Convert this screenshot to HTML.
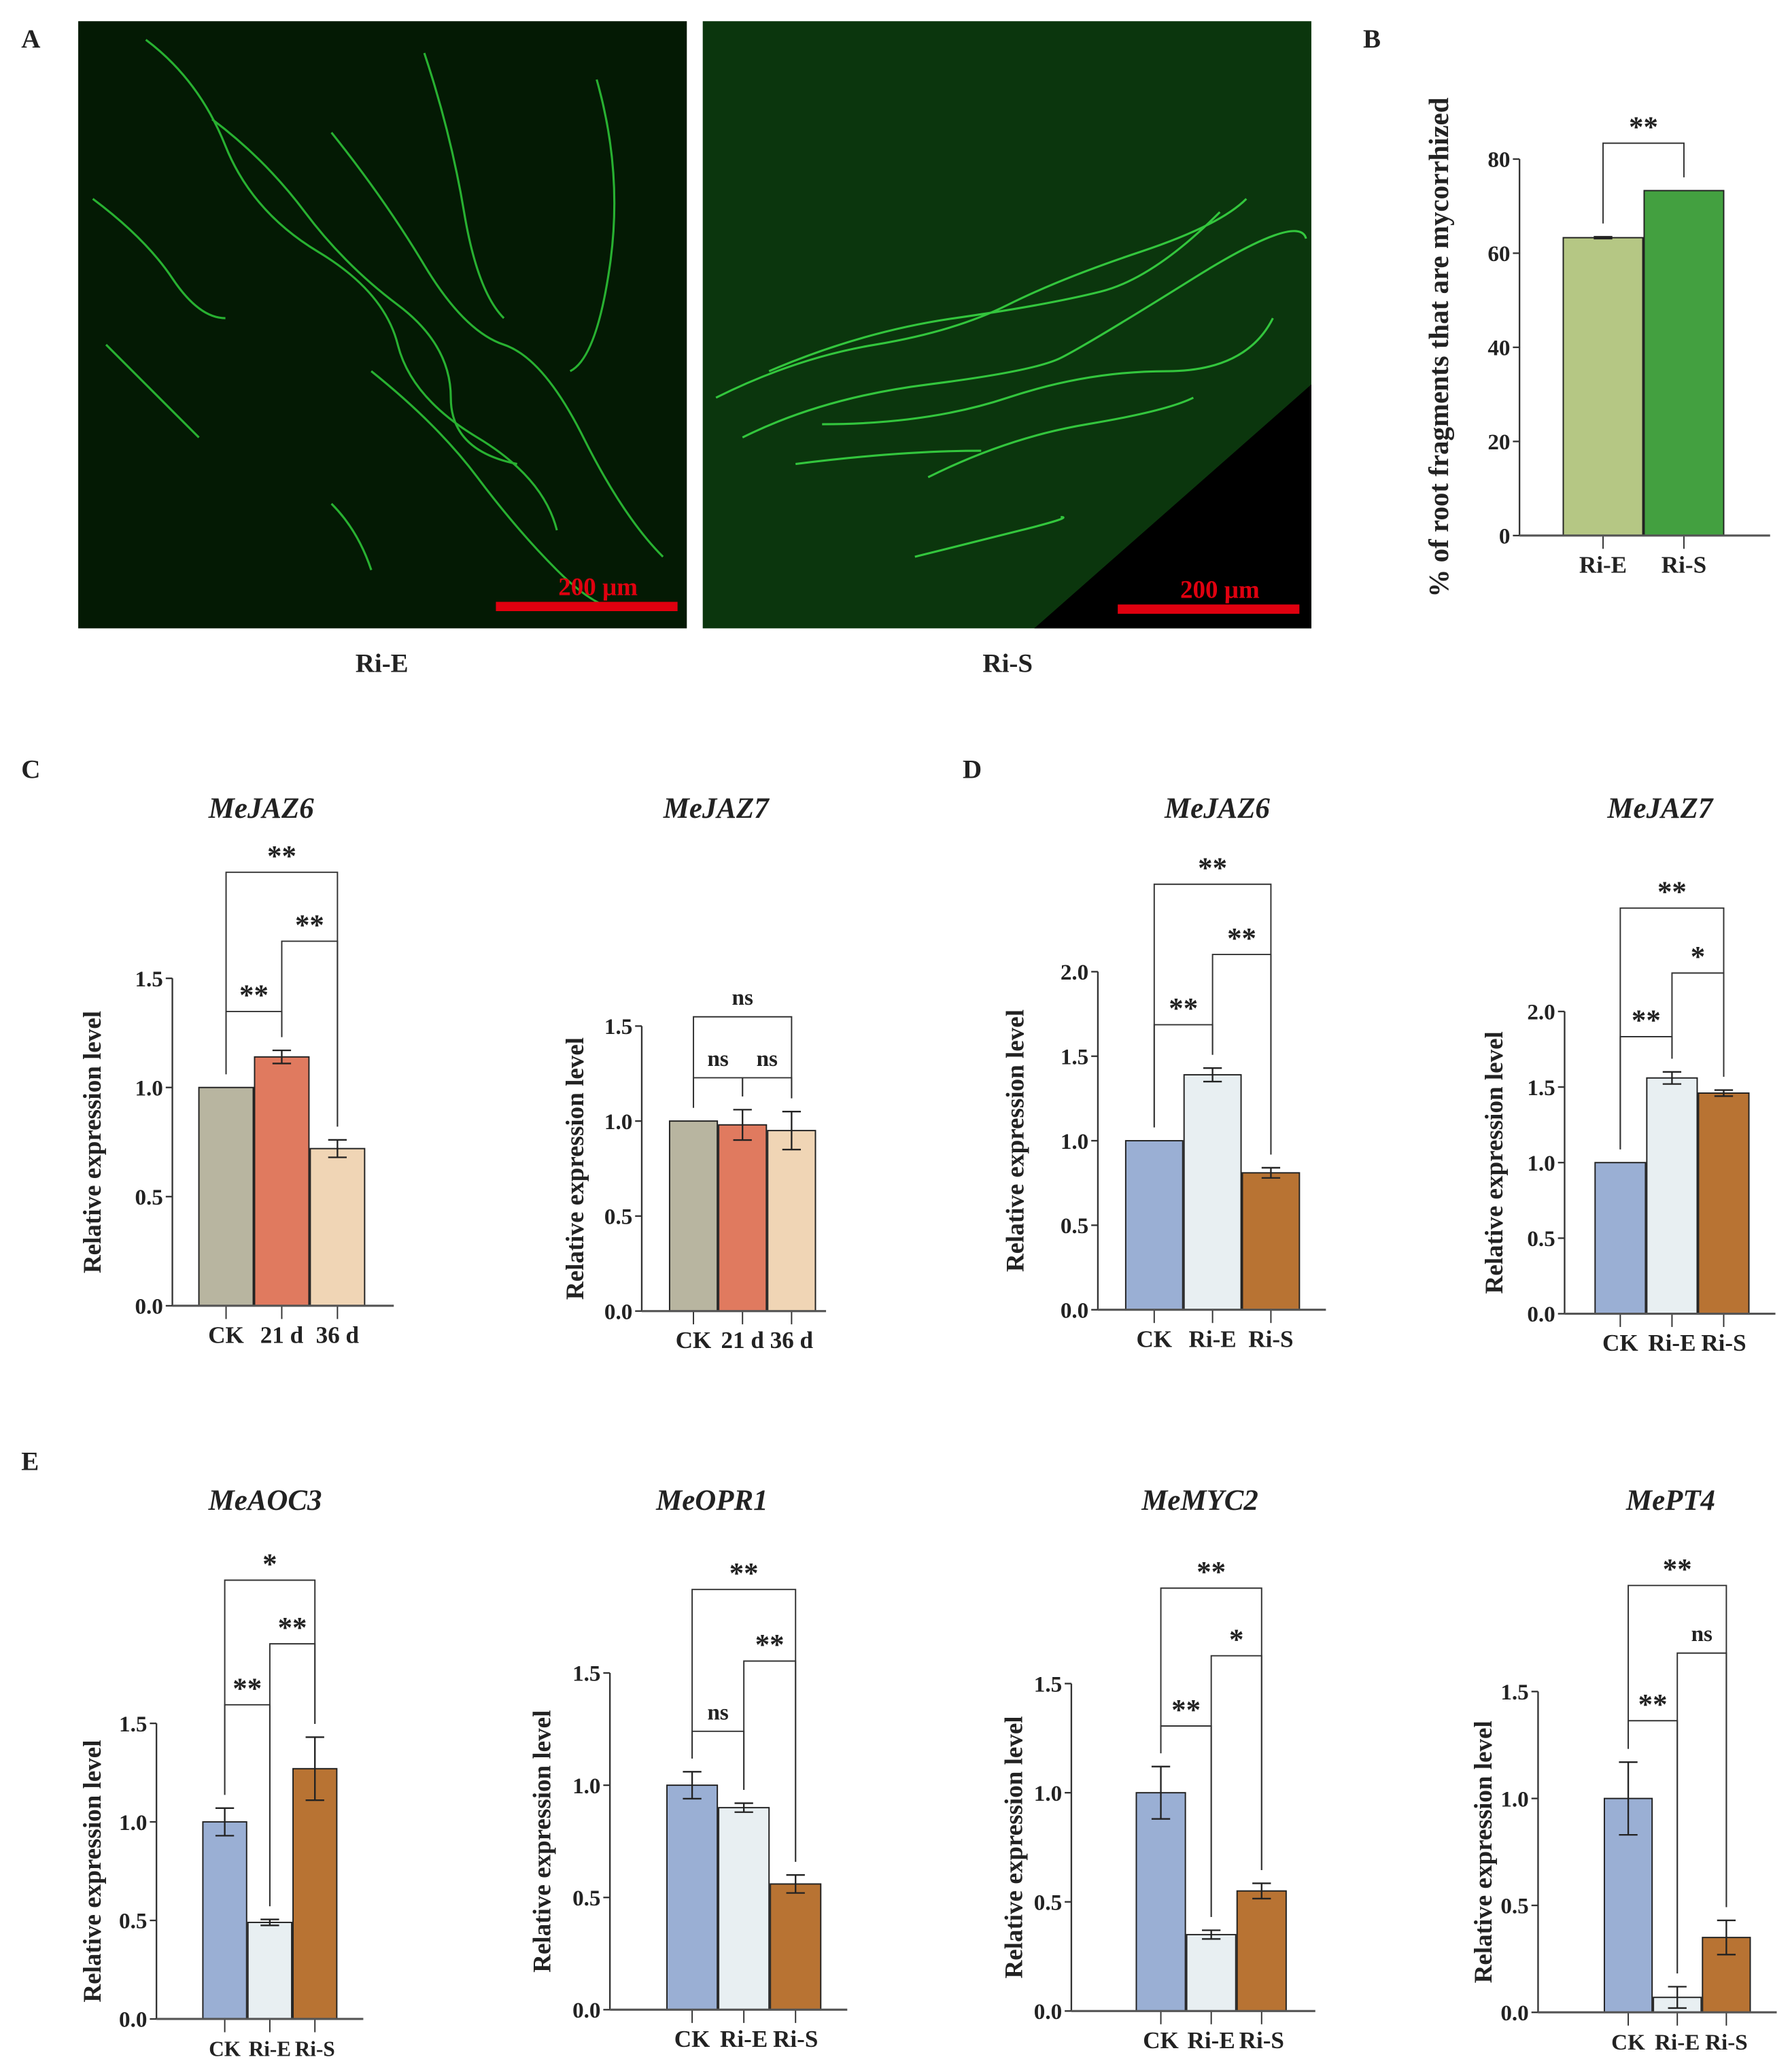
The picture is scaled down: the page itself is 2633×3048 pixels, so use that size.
<!DOCTYPE html>
<html><head><meta charset="utf-8"><style>
html,body{margin:0;padding:0;background:#fff}
svg{display:block}
text{font-family:"Liberation Serif",serif;font-weight:bold;fill:#222}
</style></head><body>
<svg id="fig" width="2633" height="3048" viewBox="0 0 1350 1563" preserveAspectRatio="none" xmlns="http://www.w3.org/2000/svg">
<g>
<text x="16" y="36" font-size="20">A</text>
<rect x="59" y="16" width="459" height="458" fill="#041a04"/>
<rect x="530" y="16" width="459" height="458" fill="#0b360d"/>
<path d="M780 474 L989 290 L989 474 Z" fill="#000"/>
<g stroke="#2fcc3a" stroke-width="1.6" fill="none" opacity="0.85">
<path d="M110 30 Q150 60 170 110 T240 190 T300 260 T360 330 T420 400"/>
<path d="M160 90 Q200 120 230 160 T300 230 T340 300 T390 350"/>
<path d="M250 100 Q290 150 320 200 T380 260 T440 330 T500 420"/>
<path d="M70 150 Q110 180 130 210 T170 240"/>
<path d="M280 280 Q330 320 360 360 T420 430 T470 460"/>
<path d="M320 40 Q340 100 350 160 T380 240"/>
<path d="M450 60 Q470 130 460 200 T430 280"/>
<path d="M80 260 Q120 300 150 330"/>
<path d="M250 380 Q270 400 280 430"/>
</g>
<g stroke="#3be046" stroke-width="1.6" fill="none" opacity="0.85">
<path d="M540 300 Q600 270 660 260 T760 230 T860 190 T940 150"/>
<path d="M560 330 Q620 300 700 290 T800 270 T900 210 T985 180"/>
<path d="M580 280 Q650 250 720 240 T830 220 T920 160"/>
<path d="M620 320 Q700 320 760 300 T880 280 T960 240"/>
<path d="M700 360 Q760 330 820 320 T900 300"/>
<path d="M690 420 Q730 410 770 400 T800 390"/>
<path d="M600 350 Q680 340 740 340"/>
</g>
<rect x="374" y="454" width="137" height="7" fill="#e0000f"/>
<text x="451" y="449" font-size="19" text-anchor="middle" style="fill:#e0000f">200 μm</text>
<rect x="843" y="456" width="137" height="7" fill="#e0000f"/>
<text x="920" y="451" font-size="19" text-anchor="middle" style="fill:#e0000f">200 μm</text>
<text x="288" y="507" font-size="20" text-anchor="middle">Ri-E</text>
<text x="760" y="507" font-size="20" text-anchor="middle">Ri-S</text>
</g>
<text x="1028" y="36" font-size="20">B</text>
<text x="16" y="587" font-size="20">C</text>
<text x="726" y="587" font-size="20">D</text>
<text x="16" y="1109" font-size="20">E</text>
<g id="charts"></g>
</svg>
<script>
// ----- data -----
const bCats = ["Ri-E","Ri-S"];
const bVals = [63.3, 73.3];
const bErrs = [0.2, 0.0];
const bTicks = [0,20,40,60,80];

const timeCats = ["CK","21 d","36 d"];
const trtCats = ["CK","Ri-E","Ri-S"];

const cJaz6Vals = [1.0, 1.14, 0.72];
const cJaz6Errs = [0, 0.03, 0.04];
const cJaz7Vals = [1.0, 0.98, 0.95];
const cJaz7Errs = [0, 0.08, 0.1];

const dJaz6Vals = [1.0, 1.39, 0.81];
const dJaz6Errs = [0, 0.04, 0.03];
const dJaz7Vals = [1.0, 1.56, 1.46];
const dJaz7Errs = [0, 0.04, 0.02];

const eAocVals = [1.0, 0.49, 1.27];
const eAocErrs = [0.07, 0.015, 0.16];
const eOprVals = [1.0, 0.9, 0.56];
const eOprErrs = [0.06, 0.02, 0.04];
const eMycVals = [1.0, 0.35, 0.55];
const eMycErrs = [0.12, 0.02, 0.035];
const ePt4Vals = [1.0, 0.07, 0.35];
const ePt4Errs = [0.17, 0.05, 0.08];

const ticks15 = [0,0.5,1.0,1.5];
const ticks20 = [0,0.5,1.0,1.5,2.0];
const sigJaz6C = ["**","**","**"];
const sigJaz7C = ["ns","ns","ns"];
const sigJaz6D = ["**","**","**"];
const sigJaz7D = ["**","*","**"];
const sigAoc = ["**","**","*"];
const sigOpr = ["ns","**","**"];
const sigMyc = ["**","*","**"];
const sigPt4 = ["**","ns","**"];

// ----- drawing -----
const NS="http://www.w3.org/2000/svg";
const root=document.getElementById('charts');
function mk(tag,attrs,parent){const e=document.createElementNS(NS,tag);for(const k in attrs)e.setAttribute(k,attrs[k]);(parent||root).appendChild(e);return e;}
const fmt=v=>v.toFixed(1);

function chart(cfg){
  const g=mk('g',{});
  
  
  const y=v=>cfg.y0-(cfg.y0-cfg.yTop)*v/cfg.max;
  const barX=i=>cfg.bx0+i*(cfg.bw+1);
  const cx=i=>barX(i)+cfg.bw/2;
  const ya=mk('line',{x1:cfg.ax,y1:y(cfg.max),x2:cfg.ax,y2:cfg.y0,stroke:'#333','stroke-width':1.2},g);
  
  
  cfg.ticks.forEach(t=>{
    mk('line',{x1:cfg.ax-5,y1:y(t),x2:cfg.ax,y2:y(t),stroke:'#333','stroke-width':1.2},g);
    const tl=mk('text',{x:cfg.ax-7,y:y(t)+6,'font-size':17,'text-anchor':'end'},g);
    tl.textContent=cfg.fmt?cfg.fmt(t):fmt(t);
    
    
  });
  const my=(cfg.y0+y(cfg.max))/2;
  const yt=mk('text',{x:cfg.ytx,y:my,'font-size':cfg.ytSize||19,'text-anchor':'middle',transform:`rotate(-90 ${cfg.ytx} ${my})`},g);
  yt.textContent=cfg.ytitle||'Relative expression level';
  
  
  if(cfg.title){const tt=mk('text',{x:cfg.tx,y:cfg.ty,'font-size':22,'text-anchor':'middle','font-style':'italic'},g);
    tt.textContent=cfg.title;
    
    }
  cfg.vals.forEach((v,i)=>{
    const r=mk('rect',{x:barX(i),y:y(v),width:cfg.bw,height:cfg.y0-y(v),fill:cfg.colors[i],stroke:'#222','stroke-width':1},g);
    
    
    const e=cfg.errs[i];
    if(e>0){const c=cx(i);
      const eb=mk('path',{d:`M${c} ${y(v+e)}V${y(Math.max(v-e,0))}M${c-7} ${y(v+e)}H${c+7}M${c-7} ${y(Math.max(v-e,0))}H${c+7}`,stroke:'#222','stroke-width':1.2,fill:'none'},g);
      
      }
    mk('line',{x1:cx(i),y1:cfg.y0,x2:cx(i),y2:cfg.y0+10,stroke:'#333','stroke-width':1},g);
    const cl=mk('text',{x:cx(i),y:cfg.y0+28,'font-size':cfg.catSize||18,'text-anchor':'middle'},g);
    cl.textContent=cfg.cats[i];
    
    
  });
  const xa=mk('line',{x1:cfg.ax,y1:cfg.y0,x2:barX(cfg.vals.length-1)+cfg.bw+cfg.xpad,y2:cfg.y0,stroke:'#555','stroke-width':1.6},g);
  
  
  (cfg.brackets||[]).forEach((b,k)=>{
    const [i,j,by]=b;
    const lb=y(cfg.vals[i]+cfg.errs[i])-10, rb=y(cfg.vals[j]+cfg.errs[j])-10;
    const p=mk('path',{d:`M${cx(i)} ${lb}V${by}H${cx(j)}V${rb}`,stroke:'#333','stroke-width':1,fill:'none'},g);
    
    
    const s=mk('text',{x:(cx(i)+cx(j))/2,y:by-(cfg.sig[k]==='ns'?9:5),'font-size':cfg.sig[k]==='ns'?17:22,'text-anchor':'middle'},g);
    s.textContent=cfg.sig[k];
    
    
  });
  return g;
}

chart({name:'chart-b-mycorrhization',ax:1146,y0:404,yTop:120,max:80,ticks:bTicks,fmt:v=>String(v),bx0:1179,bw:60,xpad:35,
  vals:bVals,errs:bErrs,cats:bCats,colors:['#b5c784','#43a040'],ytx:1092,ytSize:21,
  ytitle:'% of root fragments that are mycorrhized',brackets:[[0,1,108]],sig:['**']});

const cPal=['#b8b5a0','#e07a5f','#f0d5b5'];
const dPal=['#9aafd4','#e8eff2','#b87333'];
chart({name:'chart-c-mejaz6',ax:130,y0:985,yTop:738,max:1.5,ticks:ticks15,bx0:150,bw:41,xpad:22,vals:cJaz6Vals,errs:cJaz6Errs,cats:timeCats,colors:cPal,
  ytx:76,title:'MeJAZ6',tx:197,ty:617,brackets:[[0,1,763],[1,2,710],[0,2,658]],sig:sigJaz6C});
chart({name:'chart-c-mejaz7',ax:484,y0:989,yTop:774,max:1.5,ticks:ticks15,bx0:505,bw:36,xpad:8,vals:cJaz7Vals,errs:cJaz7Errs,cats:timeCats,colors:cPal,
  ytx:440,title:'MeJAZ7',tx:540,ty:617,brackets:[[0,1,813],[1,2,813],[0,2,767]],sig:sigJaz7C});
chart({name:'chart-d-mejaz6',ax:828,y0:988,yTop:733,max:2.0,ticks:ticks20,bx0:849,bw:43,xpad:20,vals:dJaz6Vals,errs:dJaz6Errs,cats:trtCats,colors:dPal,
  ytx:772,title:'MeJAZ6',tx:918,ty:617,brackets:[[0,1,773],[1,2,720],[0,2,667]],sig:sigJaz6D});
chart({name:'chart-d-mejaz7',ax:1180,y0:991,yTop:763,max:2.0,ticks:ticks20,bx0:1203,bw:38,xpad:20,vals:dJaz7Vals,errs:dJaz7Errs,cats:trtCats,colors:dPal,
  ytx:1133,title:'MeJAZ7',tx:1252,ty:617,brackets:[[0,1,782],[1,2,734],[0,2,685]],sig:sigJaz7D});

chart({name:'chart-e-meaoc3',ax:118,y0:1523,yTop:1300,max:1.5,ticks:ticks15,bx0:153,bw:33,xpad:20,vals:eAocVals,errs:eAocErrs,cats:trtCats,colors:dPal,catSize:16,
  ytx:76,title:'MeAOC3',tx:200,ty:1139,brackets:[[0,1,1286],[1,2,1240],[0,2,1192]],sig:sigAoc});
chart({name:'chart-e-meopr1',ax:460,y0:1516,yTop:1262,max:1.5,ticks:ticks15,bx0:503,bw:38,xpad:20,vals:eOprVals,errs:eOprErrs,cats:trtCats,colors:dPal,
  ytx:415,title:'MeOPR1',tx:537,ty:1139,brackets:[[0,1,1306],[1,2,1253],[0,2,1199]],sig:sigOpr});
chart({name:'chart-e-memyc2',ax:808,y0:1517,yTop:1270,max:1.5,ticks:ticks15,bx0:857,bw:37,xpad:22,vals:eMycVals,errs:eMycErrs,cats:trtCats,colors:dPal,
  ytx:771,title:'MeMYC2',tx:905,ty:1139,brackets:[[0,1,1302],[1,2,1249],[0,2,1198]],sig:sigMyc});
chart({name:'chart-e-mept4',ax:1160,y0:1518,yTop:1276,max:1.5,ticks:ticks15,bx0:1210,bw:36,xpad:20,vals:ePt4Vals,errs:ePt4Errs,cats:trtCats,colors:dPal,catSize:17,
  ytx:1125,title:'MePT4',tx:1260,ty:1139,brackets:[[0,1,1298],[1,2,1247],[0,2,1196]],sig:sigPt4});
</script>
</body></html>
